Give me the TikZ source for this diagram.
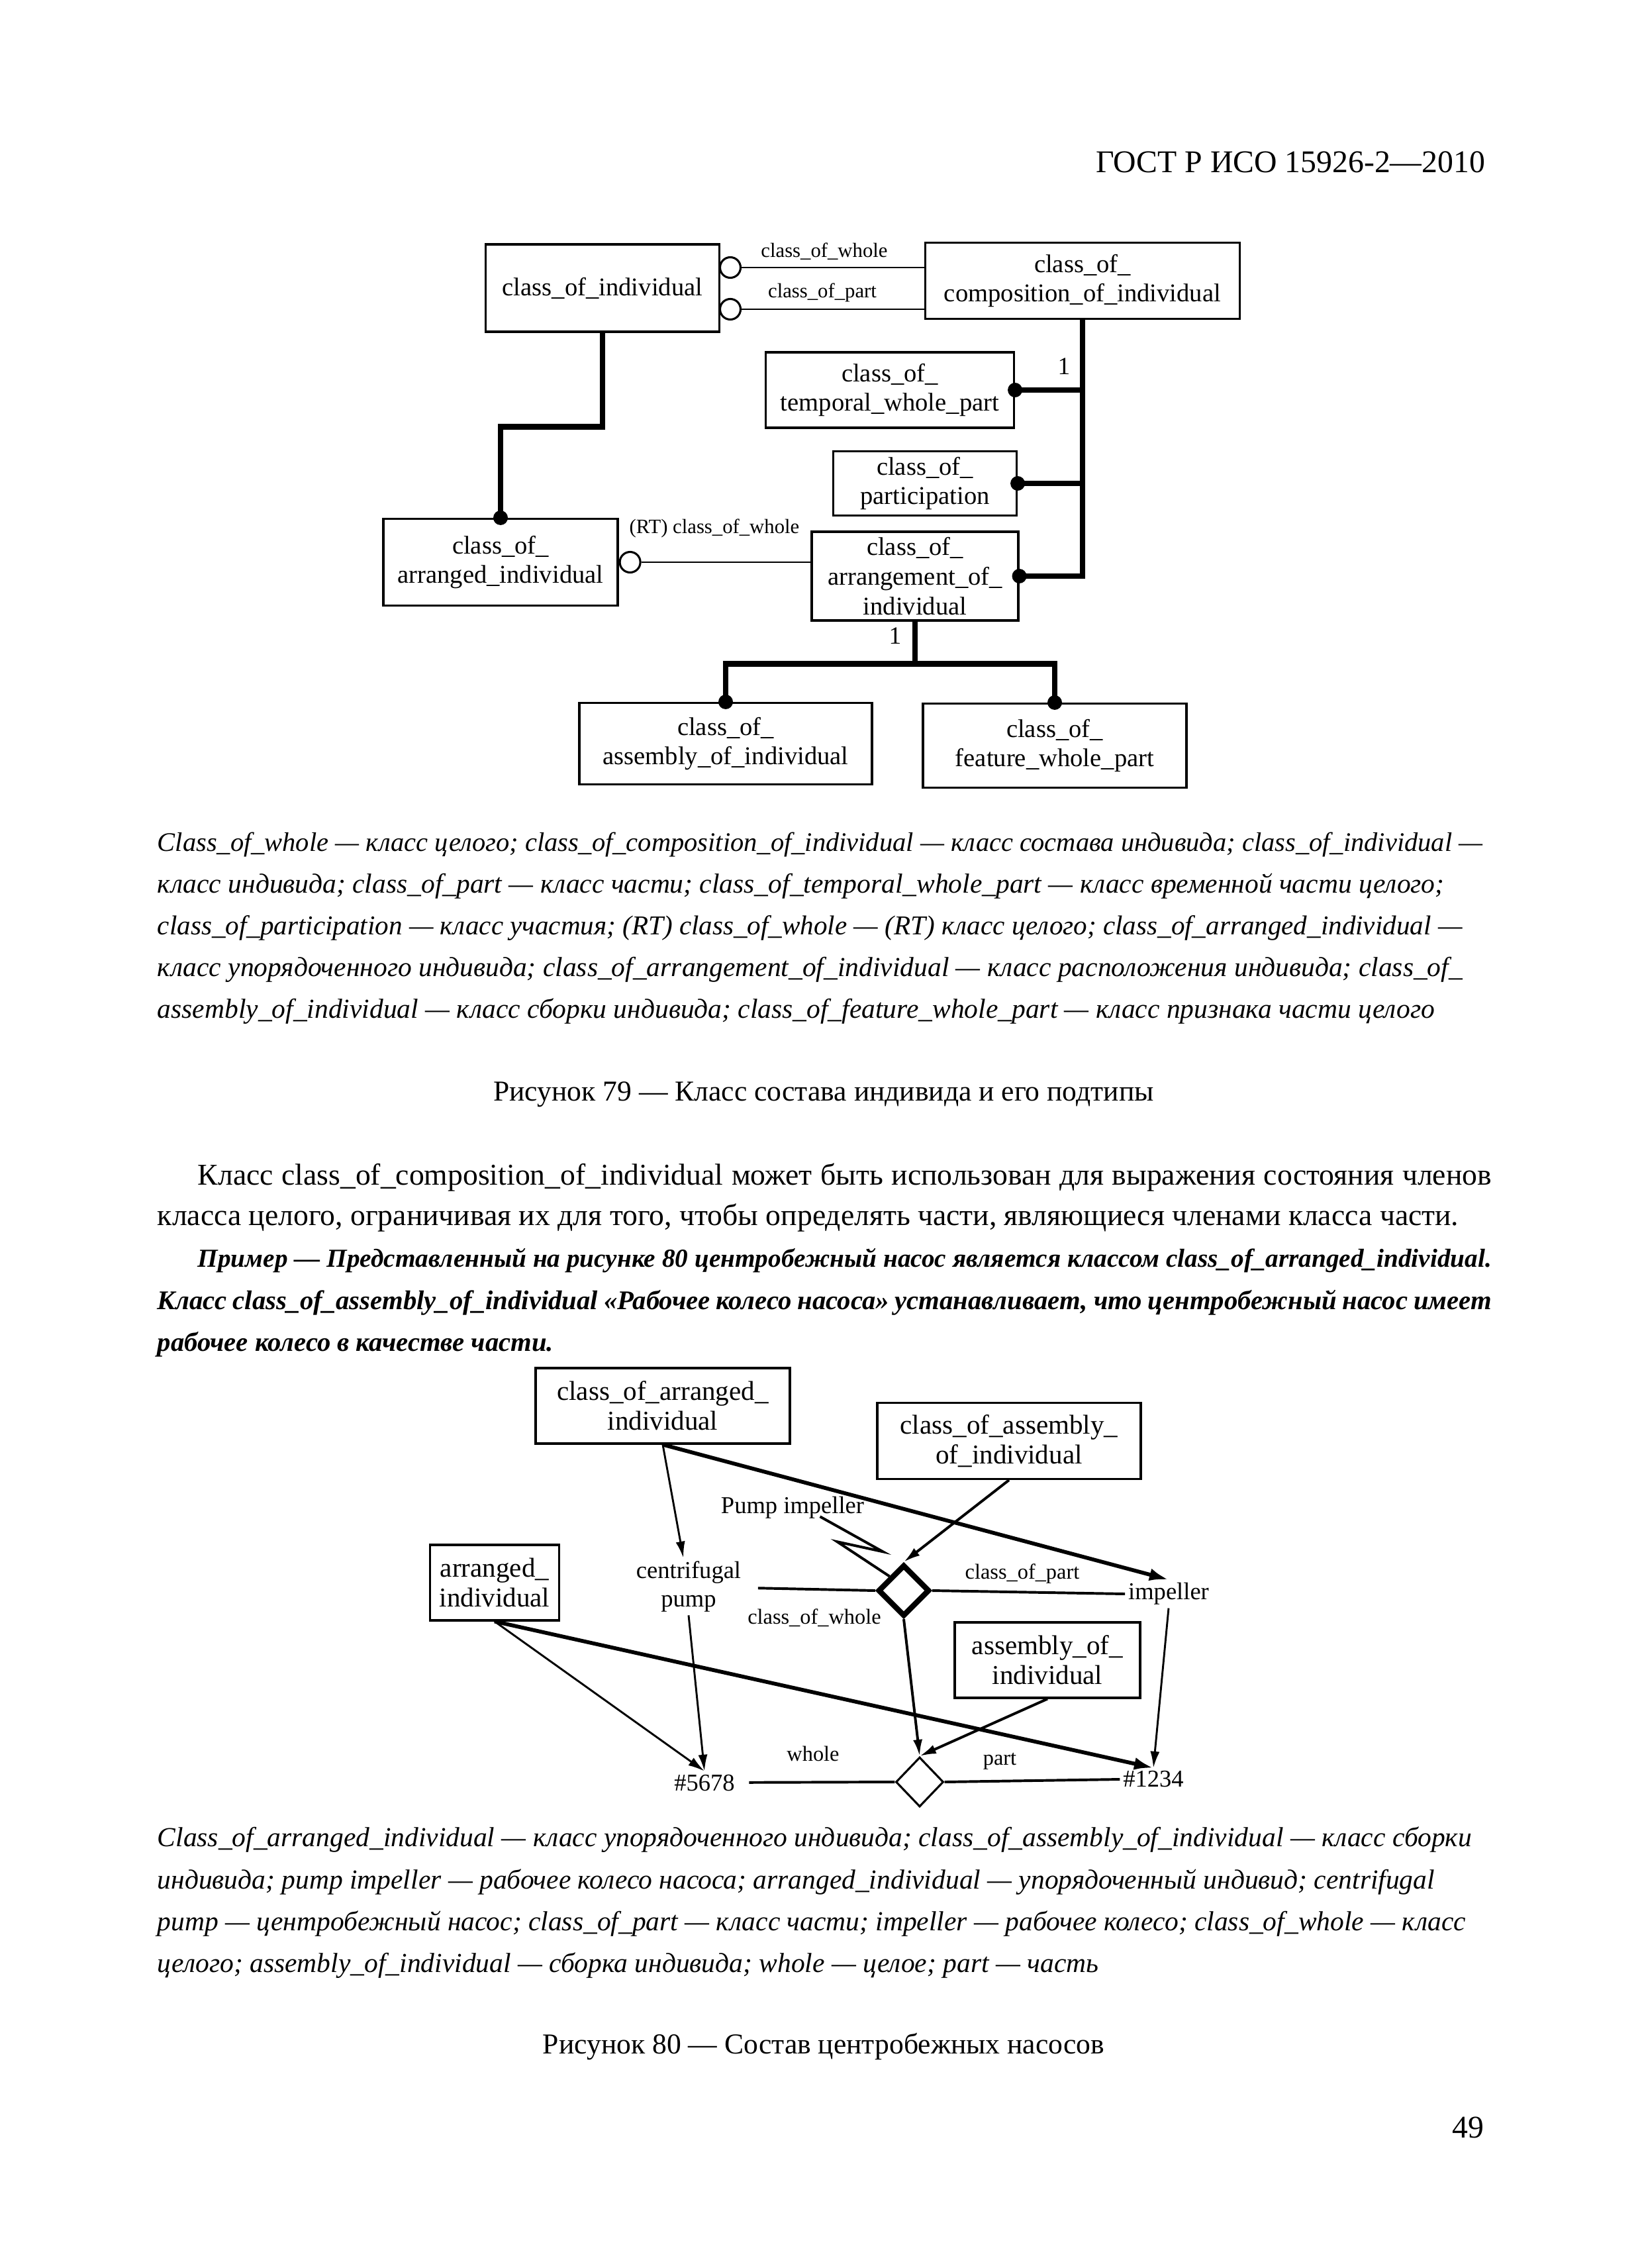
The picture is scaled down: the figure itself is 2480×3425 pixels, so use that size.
\documentclass[tikz,border=0pt]{standalone}
\usepackage{fontspec}
\setmainfont{Liberation Serif}
\usetikzlibrary{arrows.meta,shapes.geometric,positioning}

\newlength\pxl
\setlength\pxl{0.2409pt}

\tikzset{
    boxsize/.style 2 args={minimum width=#1*\pxl, minimum height=#2*\pxl},
    cls/.style={draw, line width=0.75pt, inner sep=0pt, align=center, font=\fontsize{9.3}{10.8}\selectfont},
    clsb/.style={draw, line width=0.75pt, inner sep=0pt, align=center, font=\fontsize{9.9}{10.8}\selectfont},
    role/.style={inner sep=1pt, font=\fontsize{7.4}{9}\selectfont},
    inst/.style={inner sep=1pt, align=center, font=\fontsize{8.8}{10.4}\selectfont},
    thinln/.style={line width=0.7pt},
    medln/.style={line width=0.95pt},
    thickln/.style={line width=2.1pt},
    ocirc/.style={circle, draw, line width=0.75pt, fill=white, inner sep=0pt, minimum size=31*\pxl},
    tip/.style={-{Latex[length=6pt,width=3.4pt]}},
    bigtip/.style={-{Latex[length=7pt,width=4.6pt]}},
    txt/.style={inner sep=0pt, anchor=base west},
    capline/.style={txt, font=\fontsize{10}{15}\selectfont\itshape},
    bodyline/.style={txt, font=\fontsize{11}{15}\selectfont},
    exline/.style={txt, font=\fontsize{9.5}{15}\selectfont\bfseries\itshape}
}

\begin{document}
\begin{tikzpicture}[x=0.2409pt, y=-0.2409pt]

    \fill[white] (0,0) rectangle (2480,3425);
    \useasboundingbox (0,0) rectangle (2480,3425);

    % Header
    \node[txt, anchor=base east, font=\fontsize{11.5}{14}\selectfont] (head) at (2244,260) {ГОСТ Р ИСО 15926-2—2010};

    % Figure 79: classes
    \node[cls, boxsize={353}{132}] (coi) at (910,435) {class\_of\_individual};
    \node[cls, boxsize={475}{115}] (coci) at (1635,424) {class\_of\_\\composition\_of\_individual};
    \node[cls, boxsize={375}{114}] (cotwp) at (1344,589) {class\_of\_\\temporal\_whole\_part};
    \node[cls, boxsize={277}{97}] (cop) at (1397,730) {class\_of\_\\participation};
    \node[cls, boxsize={312}{134}] (coaoi) at (1382,870) {class\_of\_\\arrangement\_of\_\\individual};
    \node[cls, boxsize={354}{131}] (coai) at (756,849) {class\_of\_\\arranged\_individual};
    \node[cls, boxsize={442}{123}] (coasm) at (1096,1123) {class\_of\_\\assembly\_of\_individual};
    \node[cls, boxsize={398}{127}] (cofwp) at (1593,1126) {class\_of\_\\feature\_whole\_part};

    % Figure 79: roles
    \node[ocirc] (whl) at (1103,404) {};
    \node[ocirc] (prt) at (1103,467) {};
    \draw[thinln] (whl) -- (whl -| coci.west);
    \draw[thinln] (prt) -- (prt -| coci.west);
    \node[role] (lwhl) at (1245,380) {class\_of\_whole};
    \node[role] (lprt) at (1242,442) {class\_of\_part};
    \node[ocirc, anchor=west] (rt) at (coai.east) {};
    \draw[thinln] (rt) -- (rt -| coaoi.west);
    \node[role] (lrt) at (1079,798) {(RT) class\_of\_whole};

    % Figure 79: subtypes
    \draw[thickln] (coci.south) |- (coaoi.east);
    \foreach \n in {cotwp, cop}
        \draw[thickln] (\n.east) -- (\n.east -| coci.south);
    \foreach \n in {cotwp, cop, coaoi}
        \fill (\n.east) circle (11);
    \node[font=\fontsize{9}{10}\selectfont] (one1) at (1607,553) {1};

    \draw[thickln] (coi.south) -- ++(0,142) -| (coai.north);
    \fill (coai.north) circle (11);

    \draw[thickln] (coaoi.south) -- ++(0,64) coordinate (fork);
    \draw[thickln] (coasm.north) |- (fork) -| (cofwp.north);
    \foreach \n in {coasm, cofwp}
        \fill (\n.north) circle (11);
    \node[font=\fontsize{9}{10}\selectfont] (one2) at (1352,960) {1};

    % Caption 79
    \node[capline, font=\fontsize{9.75}{15}\selectfont\itshape] (c1a) at (237,1285) {Class\_of\_whole — класс целого; class\_of\_composition\_of\_individual — класс состава индивида; class\_of\_individual —};
    \node[capline] (c1b) at (237,1348) {класс индивида; class\_of\_part — класс части; class\_of\_temporal\_whole\_part — класс временной части целого;};
    \node[capline, font=\fontsize{9.9}{15}\selectfont\itshape] (c1c) at (237,1411) {class\_of\_participation — класс участия; (RT) class\_of\_whole — (RT) класс целого; class\_of\_arranged\_individual —};
    \node[capline] (c1d) at (237,1474) {класс упорядоченного индивида; class\_of\_arrangement\_of\_individual — класс расположения индивида; class\_of\_};
    \node[capline] (c1e) at (237,1537) {assembly\_of\_individual — класс сборки индивида; class\_of\_feature\_whole\_part — класс признака части целого};
    \node[anchor=base, inner sep=0pt, font=\fontsize{10.5}{14}\selectfont] (t79) at (1244,1662) {Рисунок 79 — Класс состава индивида и его подтипы};

    % Body text
    \node[bodyline] (b1) at (298,1789) {\makebox[1954\pxl][s]{Класс class\_of\_composition\_of\_individual может быть использован для выражения состояния членов}};
    \node[bodyline] (b2) at (237,1850) {класса целого, ограничивая их для того, чтобы определять части, являющиеся членами класса части.};
    \node[exline, font=\fontsize{9.45}{15}\selectfont\bfseries\itshape] (e1) at (298,1913) {\makebox[1954\pxl][s]{Пример — Представленный на рисунке 80 центробежный насос является классом class\_of\_arranged\_individual.}};
    \node[exline, font=\fontsize{9.8}{15}\selectfont\bfseries\itshape] (e2) at (237,1977) {\makebox[2015\pxl][s]{Класс class\_of\_assembly\_of\_individual «Рабочее колесо насоса» устанавливает, что центробежный насос имеет}};
    \node[exline, font=\fontsize{9.8}{15}\selectfont\bfseries\itshape] (e3) at (237,2040) {рабочее колесо в качестве части.};

    % Figure 80: nodes
    \node[clsb, boxsize={384}{114}] (carr) at (1001,2123) {class\_of\_arranged\_\\individual};
    \node[clsb, boxsize={398}{115}] (casm) at (1524,2176) {class\_of\_assembly\_\\of\_individual};
    \node[clsb, boxsize={195}{114}] (arr) at (747,2390) {arranged\_\\individual};
    \node[clsb, boxsize={280}{114}] (asm) at (1582,2507) {assembly\_of\_\\individual};
    \node[inst] (pump) at (1040,2396) {centrifugal\\pump};
    \node[inst] (imp) at (1765,2407) {impeller};
    \node[inst] (pimp) at (1197,2277) {Pump impeller};
    \node[inst] (p5678) at (1064,2692) {\#5678};
    \node[inst] (p1234) at (1742,2687) {\#1234};
    \node[diamond, draw, line width=2pt, inner sep=0pt, boxsize={78}{78}] (rel) at (1365,2402) {};
    \node[diamond, draw, line width=0.75pt, inner sep=0pt, boxsize={72}{75}] (inrel) at (1389,2691) {};
    \node[role, font=\fontsize{7.8}{9}\selectfont] (lcp) at (1544,2377) {class\_of\_part};
    \node[role, font=\fontsize{7.8}{9}\selectfont] (lcw) at (1230,2443) {class\_of\_whole};
    \node[role, font=\fontsize{7.8}{9}\selectfont] (lw) at (1228,2648) {whole};
    \node[role, font=\fontsize{7.8}{9}\selectfont] (lp) at (1510,2660) {part};

    % Figure 80: connectors
    \draw[thinln, tip] (carr.south) -- (pump);
    \draw[line width=1.4pt, bigtip] (carr.south) -- (imp.north);
    \draw[medln, tip] (casm.south) -- (rel.north);
    \draw[medln, shorten <=5pt] (pump) -- (rel.west);
    \draw[medln] (rel.east) -- (imp.west);
    \draw[medln] ([xshift=10pt, yshift=2pt]pimp.south) -- ++(95,53) -- ++(-69,-15) -- (rel.north west);
    \draw[medln, tip] (rel.south) -- (inrel.north);
    \draw[medln, tip] (asm.south) -- (inrel.north);
    \draw[thinln, tip] (pump.south) -- (p5678.north);
    \draw[thinln, tip] (arr.south) -- (p5678.north);
    \draw[line width=1.4pt, bigtip] (arr.south) -- (p1234.north);
    \draw[thinln, tip] (imp.south) -- (p1234.north);
    \draw[medln, shorten <=4pt] (p5678) -- (inrel.west);
    \draw[medln] (inrel.east) -- (p1234.west);

    % Caption 80
    \node[capline] (c2a) at (237,2788) {Class\_of\_arranged\_individual — класс упорядоченного индивида; class\_of\_assembly\_of\_individual — класс сборки};
    \node[capline] (c2b) at (237,2852) {индивида; pump impeller — рабочее колесо насоса; arranged\_individual — упорядоченный индивид; centrifugal};
    \node[capline] (c2c) at (237,2915) {pump — центробежный насос; class\_of\_part — класс части; impeller — рабочее колесо; class\_of\_whole — класс};
    \node[capline] (c2d) at (237,2978) {целого; assembly\_of\_individual — сборка индивида; whole — целое; part — часть};
    \node[anchor=base, inner sep=0pt, font=\fontsize{10.5}{14}\selectfont] (t80) at (1244,3101) {Рисунок 80 — Состав центробежных насосов};

    % Page number
    \node[txt, anchor=base east, font=\fontsize{11.5}{14}\selectfont] (pg) at (2242,3228) {49};
\end{tikzpicture}
\end{document}
